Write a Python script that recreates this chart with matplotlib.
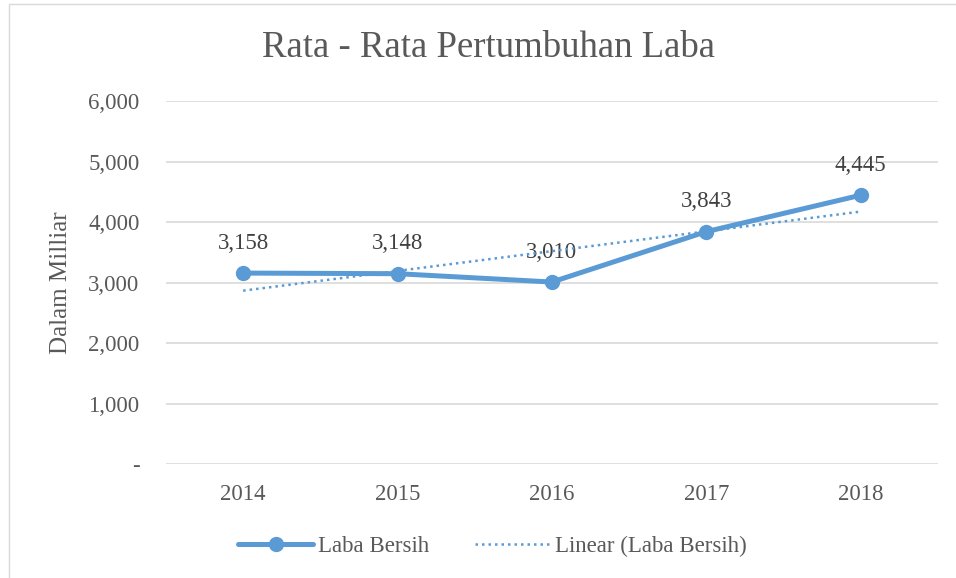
import numpy as np
import matplotlib.pyplot as plt
from matplotlib.patches import Rectangle
from matplotlib.ticker import FuncFormatter

# data
years = ["2014", "2015", "2016", "2017", "2018"]
laba_bersih = [3158, 3148, 3010, 3843, 4445]
y_ticks = [0, 1000, 2000, 3000, 4000, 5000, 6000]

blue = "#5B9BD5"
grey_text = "#595959"
grid_col = "#D9D9D9"

plt.rcParams["font.family"] = ["Liberation Serif", "DejaVu Serif"]

fig = plt.figure(figsize=(9.56, 5.78), dpi=100)
ax = fig.add_axes([0.1736, 0.197, 0.8074, 0.628])

x = np.arange(len(years))

# linear trendline (like Excel's "Linear" trendline)
slope, intercept = np.polyfit(x, laba_bersih, 1)
trend = slope * x + intercept

ax.plot(x, laba_bersih, color=blue, linewidth=3.6, marker="o", markersize=10,
        solid_capstyle="round", label="Laba Bersih", zorder=3)
ax.plot(x, trend, color=blue, linewidth=1.8, linestyle=(0, (1, 1.6)),
        label="Linear (Laba Bersih)", zorder=4)

for xi, v in zip(x, laba_bersih):
    ax.annotate(f"{v:,}", (xi, v), xytext=(0, 14), textcoords="offset points",
                ha="center", va="bottom", fontsize=16.5, color="#404040")

ax.set_xlim(-0.5, len(years) - 0.5)
ax.set_ylim(0, 6000)
ax.set_xticks(x)
ax.set_xticklabels(years)
ax.set_yticks(y_ticks)
ax.yaxis.set_major_formatter(FuncFormatter(lambda v, p: "-" if v == 0 else f"{int(v):,}"))
ax.tick_params(length=0, labelsize=16.5, labelcolor=grey_text)
ax.tick_params(axis="y", pad=19)
ax.tick_params(axis="x", pad=14)
ax.grid(axis="y", color=grid_col, linewidth=1.2)
ax.set_axisbelow(True)
for s in ax.spines.values():
    s.set_visible(False)

ax.set_ylabel("Dalam Milliar", fontsize=18, color=grey_text, labelpad=12)
fig.text(0.511, 0.917, "Rata - Rata Pertumbuhan Laba", ha="center", va="center",
         fontsize=26.5, color=grey_text)

leg = fig.legend(loc="center", bbox_to_anchor=(0.515, 0.055), ncol=2, frameon=False,
                 fontsize=16.5, handlelength=3.3, columnspacing=2.0, handletextpad=0.2)
for t in leg.get_texts():
    t.set_color(grey_text)

# chart area border
fig.patches.append(Rectangle((0.009, -0.01), 1.0, 1.003, transform=fig.transFigure,
                             fill=False, edgecolor="#D9D9D9", linewidth=1))

fig.savefig("out.png", dpi=100)
